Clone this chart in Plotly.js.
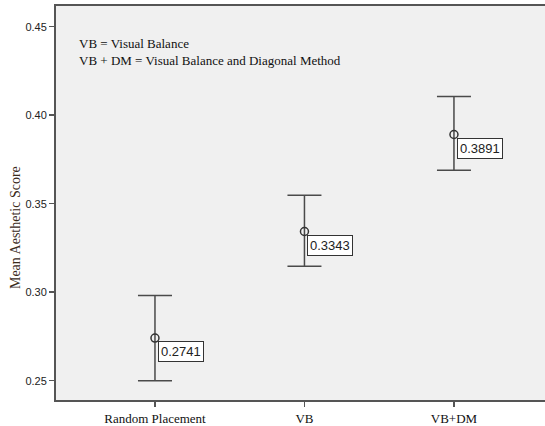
<!DOCTYPE html>
<html><head><meta charset="utf-8">
<script src="https://cdn.plot.ly/plotly-3.0.1.min.js"></script>
<style>body{margin:0;padding:0;background:#fff}#chart{width:545px;height:426px}</style>
</head><body><div id="chart"></div>
<script>
var categories = ["Random Placement", "VB", "VB+DM"];
var means = [0.2741, 0.3343, 0.3891];
var upper = [0.2981, 0.3548, 0.4105];
var lower = [0.2500, 0.3146, 0.3689];
var meanLabels = ["0.2741", "0.3343", "0.3891"];
var yTicks = [0.25, 0.30, 0.35, 0.40, 0.45];
var yTickText = ["0.25", "0.30", "0.35", "0.40", "0.45"];
var noteLines = ["VB = Visual Balance", "VB + DM = Visual Balance and Diagonal Method"];
var yTitle = "Mean Aesthetic Score";

var xs = categories.map(function(c, i){ return i; });
var plus = means.map(function(m, i){ return upper[i] - m; });
var minus = means.map(function(m, i){ return m - lower[i]; });

var trace = {
  x: xs, y: means, type: 'scatter', mode: 'markers',
  marker: {symbol: 'circle-open', size: 8, color: '#333', line: {width: 1.5, color: '#333'}},
  error_y: {type: 'data', symmetric: false, array: plus, arrayminus: minus,
            thickness: 1.5, width: 17, color: '#4a4a4a'},
  hoverinfo: 'none', showlegend: false
};

var annotations = means.map(function(m, i){
  return {x: xs[i], y: m, xref: 'x', yref: 'y', text: meanLabels[i], showarrow: false,
          xanchor: 'left', yanchor: 'top', xshift: 3, yshift: -3,
          font: {family: 'Liberation Sans, Arial, sans-serif', size: 13, color: '#222'},
          bgcolor: '#ffffff', bordercolor: '#333', borderwidth: 1, borderpad: 2};
});
annotations.push({xref: 'paper', yref: 'paper', x: 0.043, y: 0.93, xanchor: 'left', yanchor: 'top',
  align: 'left', showarrow: false, text: noteLines.join('<br>'),
  font: {family: 'Liberation Serif, Times New Roman, serif', size: 13, color: '#111'}});
annotations.push({xref: 'paper', yref: 'paper', x: -0.0838, y: 0.4365, xanchor: 'center', yanchor: 'middle',
  textangle: -90, showarrow: false, text: yTitle,
  font: {family: 'Liberation Serif, Times New Roman, serif', size: 14, color: '#3a2a1a'}});

var layout = {
  width: 545, height: 426,
  margin: {l: 56, r: 0, t: 6, b: 26},
  paper_bgcolor: '#ffffff', plot_bgcolor: '#f0f0f0',
  xaxis: {range: [-0.662, 2.609], tickvals: xs, ticktext: categories,
          showgrid: false, zeroline: false, showline: true, mirror: true,
          linecolor: '#555', linewidth: 2, ticks: 'outside', ticklen: 5, tickwidth: 1.5, tickcolor: '#555',
          tickfont: {family: 'Liberation Serif, Times New Roman, serif', size: 13, color: '#111'}},
  yaxis: {range: [0.2391, 0.4617], tickvals: yTicks, ticktext: yTickText,
          showgrid: false, zeroline: false, showline: true, linecolor: '#555', linewidth: 2,
          ticks: 'outside', ticklen: 5, tickwidth: 1.5, tickcolor: '#555',
          tickfont: {family: 'Liberation Sans, Arial, sans-serif', size: 11, color: '#222'}},
  annotations: annotations
};
Plotly.newPlot('chart', [trace], layout, {displayModeBar: false, staticPlot: true});
</script></body></html>
